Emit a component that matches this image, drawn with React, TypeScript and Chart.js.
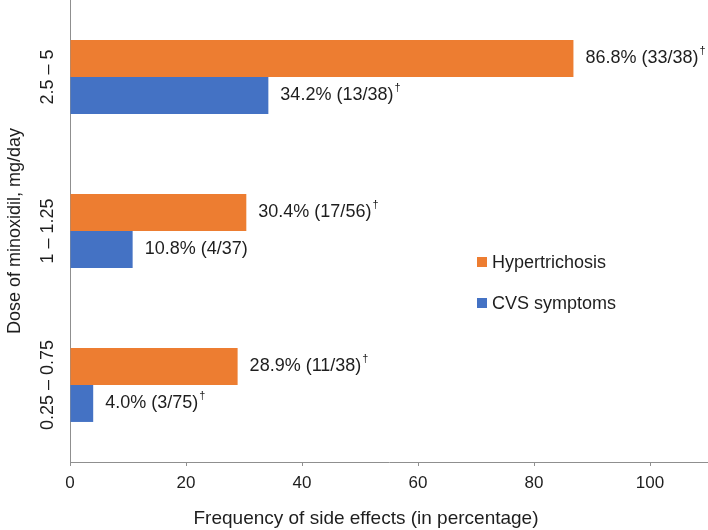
import React, { useEffect, useRef } from "react";
import { Chart, registerables } from "chart.js";

Chart.register(...registerables);

const categories = ["2.5 – 5", "1 – 1.25", "0.25 – 0.75"];
const seriesNames = ["Hypertrichosis", "CVS symptoms"];
const hypertrichosis = [86.8, 30.4, 28.9];
const cvsSymptoms = [34.2, 10.8, 4.0];
const hyperLabels = ["86.8% (33/38)", "30.4% (17/56)", "28.9% (11/38)"];
const hyperDagger = [true, true, true];
const cvsLabels = ["34.2% (13/38)", "10.8% (4/37)", "4.0% (3/75)"];
const cvsDagger = [true, false, true];
const xTitle = "Frequency of side effects (in percentage)";
const yTitle = "Dose of minoxidil, mg/day";
const xMax = 110;
const xStep = 20;

const ORANGE = "#ED7D31";
const BLUE = "#4472C4";
const TEXT = "#1e1e1e";
const AXIS = "#8f8f8f";
const FONT = "'Liberation Sans', Arial, sans-serif";

const valueLabels = [hyperLabels, cvsLabels];
const valueDaggers = [hyperDagger, cvsDagger];

const overlayPlugin = {
  id: "overlay",
  afterDatasetsDraw(chart: any) {
    const ctx = chart.ctx;
    ctx.save();
    // value labels
    chart.data.datasets.forEach((_: any, di: number) => {
      const meta = chart.getDatasetMeta(di);
      meta.data.forEach((bar: any, i: number) => {
        const text = valueLabels[di][i];
        const x = bar.x + 12;
        const y = bar.y;
        ctx.font = `18px ${FONT}`;
        ctx.fillStyle = TEXT;
        ctx.textAlign = "left";
        ctx.textBaseline = "middle";
        ctx.fillText(text, x, y);
        if (valueDaggers[di][i]) {
          const w = ctx.measureText(text).width;
          ctx.font = `11px ${FONT}`;
          ctx.fillText("†", x + w + 1, y - 8);
        }
      });
    });
    // category labels on y axis (rotated)
    const yScale = chart.scales.y;
    categories.forEach((c, i) => {
      const y = yScale.getPixelForValue(i);
      ctx.save();
      ctx.translate(48, y);
      ctx.rotate(-Math.PI / 2);
      ctx.font = `18px ${FONT}`;
      ctx.fillStyle = TEXT;
      ctx.textAlign = "center";
      ctx.textBaseline = "middle";
      ctx.fillText(c, 0, 0);
      ctx.restore();
    });
    // x axis title
    ctx.font = `19px ${FONT}`;
    ctx.fillStyle = TEXT;
    ctx.textAlign = "center";
    ctx.textBaseline = "middle";
    ctx.fillText(xTitle, 366, 519);
    // legend
    const lx = 477;
    const ly = [262, 303];
    chart.data.datasets.forEach((ds: any, di: number) => {
      ctx.fillStyle = ds.backgroundColor;
      ctx.fillRect(lx, ly[di] - 5, 10, 10);
      ctx.font = `18px ${FONT}`;
      ctx.fillStyle = TEXT;
      ctx.textAlign = "left";
      ctx.textBaseline = "middle";
      ctx.fillText(ds.label, lx + 15, ly[di] + 1);
    });
    ctx.restore();
  },
};

export default function App() {
  const ref = useRef<HTMLCanvasElement | null>(null);
  useEffect(() => {
    if (!ref.current) return;
    const chart = new Chart(ref.current, {
      type: "bar",
      data: {
        labels: categories,
        datasets: [
          {
            label: seriesNames[0],
            data: hypertrichosis,
            backgroundColor: ORANGE,
            borderWidth: 0,
          },
          {
            label: seriesNames[1],
            data: cvsSymptoms,
            backgroundColor: BLUE,
            borderWidth: 0,
          },
        ],
      },
      options: {
        indexAxis: "y",
        animation: false,
        responsive: false,
        devicePixelRatio: 1,
        layout: { padding: 0 },
        datasets: {
          bar: { categoryPercentage: 0.48, barPercentage: 1 },
        },
        plugins: {
          legend: { display: false },
          tooltip: { enabled: false },
        },
        scales: {
          x: {
            type: "linear",
            min: 0,
            max: xMax,
            afterFit: (s: any) => {
              s.height = 68;
            },
            ticks: {
              stepSize: xStep,
              includeBounds: false,
              color: TEXT,
              font: { family: FONT, size: 17 },
              padding: 7,
              maxRotation: 0,
            },
            grid: {
              drawOnChartArea: false,
              drawTicks: true,
              tickLength: 4,
              color: AXIS,
            },
            border: { display: true, color: AXIS, width: 1 },
            title: { display: false },
          },
          y: {
            type: "category",
            afterFit: (s: any) => {
              s.width = 70;
            },
            ticks: { display: false },
            grid: { display: false },
            border: { display: true, color: AXIS, width: 1 },
            title: {
              display: true,
              text: yTitle,
              color: TEXT,
              font: { family: FONT, size: 18 },
              padding: { top: 4, bottom: 0 },
            },
          },
        },
      },
      plugins: [overlayPlugin],
    } as any);
    return () => chart.destroy();
  }, []);
  return (
    <div style={{ position: "absolute", left: 0, top: 0, width: 708, height: 530, background: "#fff" }}>
      <canvas ref={ref} width={708} height={530} style={{ display: "block" }} />
    </div>
  );
}
